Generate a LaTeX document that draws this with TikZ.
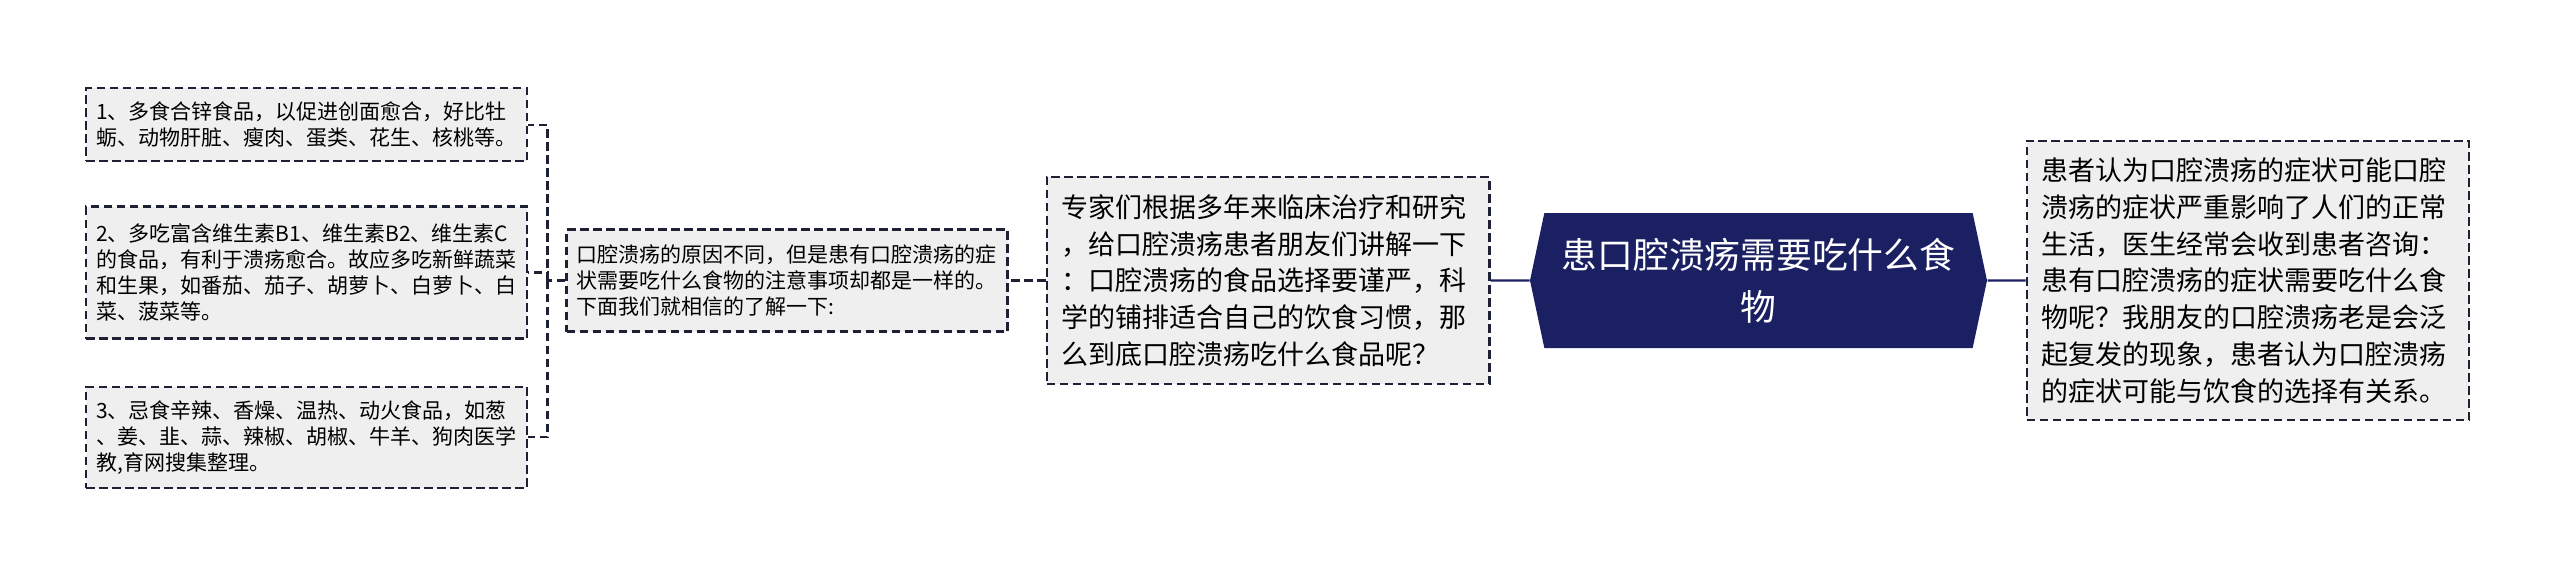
\documentclass[tikz,border=0pt]{standalone}
\usepackage{fontspec}
\setmainfont{Noto Sans CJK SC}
\usepackage{xcolor}
\usepackage{tikz}
\definecolor{navy}{HTML}{1B2063}
\definecolor{edge}{HTML}{1E2033}
\definecolor{paper}{HTML}{EFEFEF}
\tikzstyle{leaf} = [rectangle, draw=edge, fill=paper, line width=0.9pt,
    dash pattern=on 3.4pt off 1.8pt, align=left, inner ysep=0pt]
\tikzstyle{small} = [leaf, text width=168.4pt, inner xsep=4pt,
    font=\fontsize{8.4pt}{10.4pt}\selectfont]
\tikzstyle{big} = [leaf, text width=165pt, inner xsep=6pt,
    font=\fontsize{10.8pt}{14.7pt}\selectfont]
\tikzstyle{topic} = [shape=signal, signal to=west and east, signal pointer angle=156,
    fill=navy, text=white, align=center, inner sep=0pt,
    minimum width=182.8pt, minimum height=54pt,
    font=\fontsize{14.3pt}{20.8pt}\selectfont]
\tikzstyle{link} = [draw=edge, line width=0.9pt, dash pattern=on 3.4pt off 1.8pt]
\tikzstyle{trunk} = [draw=navy, line width=0.9pt]
\usetikzlibrary{calc}
\usetikzlibrary{positioning}
\usetikzlibrary{shapes.symbols}

\begin{document}
\begin{tikzpicture}[x=0.4pt,y=-0.4pt]
    \useasboundingbox (0,0) rectangle (2560,574);

    \node[topic] (topic) at (1758.5,280.5) {患口腔溃疡需要吃什么食\\物};

    \node[big, left=15.6pt of topic, minimum height=82.8pt] (expert) {专家们根据多年来临床治疗和研究\\，给口腔溃疡患者朋友们讲解一下\\：口腔溃疡的食品选择要谨严，科\\学的铺排适合自己的饮食习惯，那\\么到底口腔溃疡吃什么食品呢？};
    \node[big, right=15.2pt of topic, minimum height=111.6pt] (patient) {患者认为口腔溃疡的症状可能口腔\\溃疡的症状严重影响了人们的正常\\生活，医生经常会收到患者咨询：\\患有口腔溃疡的症状需要吃什么食\\物呢？我朋友的口腔溃疡老是会泛\\起复发的现象，患者认为口腔溃疡\\的症状可能与饮食的选择有关系。};

    \draw[trunk] (topic) -- (expert);
    \draw[trunk] (topic) -- (patient);

    \node[small, left=14.8pt of expert, minimum height=40.8pt] (cause) {口腔溃疡的原因不同，但是患有口腔溃疡的症\\状需要吃什么食物的注意事项却都是一样的。\\下面我们就相信的了解一下:};
    \draw[link] (expert) -- (cause);

    \node[small, left=14.8pt of cause, yshift=3.2pt, minimum height=52.8pt] (vitamin) {2、多吃富含维生素B1、维生素B2、维生素C\\的食品，有利于溃疡愈合。故应多吃新鲜蔬菜\\和生果，如番茄、茄子、胡萝卜、白萝卜、白\\菜、菠菜等。};
    \node[small, above=17.2pt of vitamin, minimum height=29.2pt] (zinc) {1、多食合锌食品，以促进创面愈合，好比牡\\蛎、动物肝脏、瘦肉、蛋类、花生、核桃等。};
    \node[small, below=18.4pt of vitamin, minimum height=40.4pt] (spicy) {3、忌食辛辣、香燥、温热、动火食品，如葱\\、姜、韭、蒜、辣椒、胡椒、牛羊、狗肉医学\\教,育网搜集整理。};

    \coordinate[left=7.2pt of cause.west] (spine);
    \draw[link] (cause.west) -- (spine);
    \draw[link] (spine) |- (zinc.east);
    \draw[link] (spine) |- (vitamin.east);
    \draw[link] (spine) |- (spicy.east);
\end{tikzpicture}
\end{document}
